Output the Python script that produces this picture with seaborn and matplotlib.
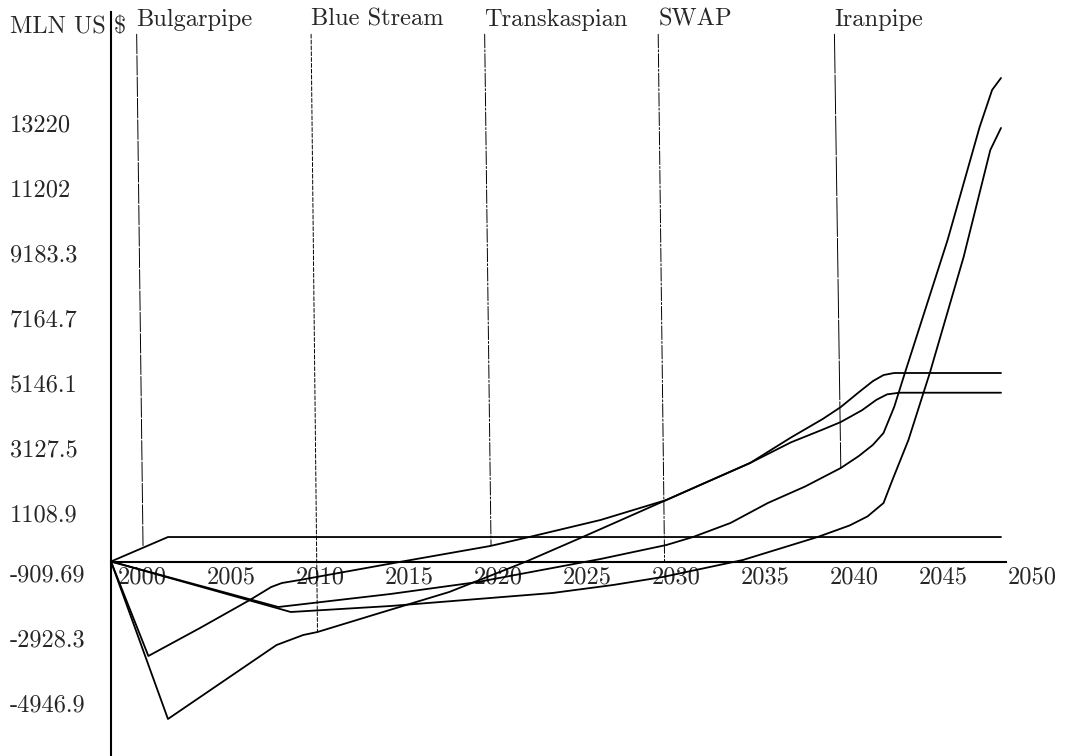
import numpy as np
import pandas as pd
import matplotlib
matplotlib.use("Agg")
import matplotlib.pyplot as plt
import seaborn as sns
from matplotlib.transforms import ScaledTranslation, blended_transform_factory

# curves (year, MLN US $)
flat_year = [2000, 2003.2, 2050]
flat_val = [0, 760, 760]

b_year = [2000, 2003.2, 2009.3, 2010.8, 2011.6, 2015.1, 2019.0, 2023.4, 2026.5, 2031.2, 2033.1,
          2035.9, 2038.2, 2040.0, 2041.0, 2042.0, 2042.8, 2043.4, 2044.0, 2050]
b_val = [0, -4890, -2593, -2282, -2189, -1599, -947, 16, 761, 1910, 2375,
         3058, 3850, 4430, 4797, 5250, 5600, 5790, 5853, 5853]

c_year = [2000, 2002.1, 2005.0, 2007.8, 2009.0, 2009.6, 2010.6, 2016.2, 2021.3, 2023.5, 2027.5,
          2031.2, 2033.1, 2035.9, 2038.2, 2040.0, 2041.0, 2042.2, 2043.0, 2043.6, 2044.3, 2050]
c_val = [0, -2934, -2065, -1195, -792, -668, -575, -16, 481, 761, 1289,
         1910, 2375, 3058, 3700, 4100, 4331, 4700, 5020, 5190, 5241, 5241]

d_year = [2000, 2009.4, 2015.7, 2020.6, 2027.5, 2031.2, 2032.7, 2034.8, 2036.9, 2039.0, 2041.0,
          2042.0, 2042.8, 2043.4, 2044.0, 2044.6, 2047.0, 2048.8, 2049.5, 2050]
d_val = [0, -1413, -1009, -637, 78, 512, 761, 1195, 1816, 2330, 2903,
         3270, 3620, 3990, 4800, 5853, 9983, 13492, 14641, 15013]

e_year = [2000, 2010.1, 2015.7, 2024.8, 2028.2, 2031.0, 2035.5, 2039.7, 2041.5, 2042.5, 2043.4,
          2043.9, 2044.8, 2046.0, 2047.9, 2049.4, 2050]
e_val = [0, -1568, -1382, -978, -730, -481, 47, 761, 1120, 1400, 1816,
         2531, 3773, 5853, 9455, 12778, 13461]

pipe_names = ["Bulgarpipe", "Blue Stream", "Transkaspian", "SWAP", "Iranpipe"]
pipe_years = [2001.8, 2011.6, 2021.35, 2031.1, 2041.0]
pipe_values = [450, -2189, 500, 0, 2903]

xticks = [2000, 2005, 2010, 2015, 2020, 2025, 2030, 2035, 2040, 2045, 2050]
yticks = [-4946.9, -2928.3, -909.69, 1108.9, 3127.5, 5146.1, 7164.7, 9183.3, 11202, 13220]
ytick_labels = ["-4946.9", "-2928.3", "-909.69", "1108.9", "3127.5", "5146.1",
                "7164.7", "9183.3", "11202", "13220"]

frames = []
for name, yrs, vals in [("flat", flat_year, flat_val), ("b", b_year, b_val), ("c", c_year, c_val),
                        ("d", d_year, d_val), ("e", e_year, e_val)]:
    frames.append(pd.DataFrame({"year": yrs, "value": vals, "curve": name}))
df = pd.concat(frames, ignore_index=True)

sns.set_style("white")
plt.rcParams["font.family"] = ["cmr10", "DejaVu Serif"]
plt.rcParams["font.size"] = 17.6

fig = plt.figure(figsize=(10.66, 7.56), dpi=100)
ax = fig.add_axes([0, 0, 1, 1])

sns.lineplot(data=df, x="year", y="value", units="curve", estimator=None, sort=False,
             color="black", linewidth=1.3, legend=False, ax=ax)

# pixel mapping of the reference: 17.8 px per year, 31.05 units per px
ax.set_xlim(2000 - 111 / 17.8, 2000 + 955 / 17.8)
ax.set_ylim((561.5 - 756) * 31.05, 561.5 * 31.05)

for s in ["top", "right"]:
    ax.spines[s].set_visible(False)
ax.spines["left"].set_position(("data", 2000))
ax.spines["bottom"].set_position(("data", 0))
ax.spines["left"].set_bounds((561.5 - 760) * 31.05, (561.5 - 12) * 31.05)
ax.spines["bottom"].set_bounds(2000, 2050.3)
for s in ["left", "bottom"]:
    ax.spines[s].set_linewidth(1.5)
    ax.spines[s].set_color("black")

ax.set_xticks(xticks, [str(x) for x in xticks])
ax.set_yticks(yticks, ytick_labels)
ax.tick_params(axis="x", length=0, pad=3.5)
ax.tick_params(axis="y", length=0, pad=72.7)
ax.set_xlabel("")

for lab in ax.get_xticklabels():
    lab.set_ha("left")
    lab.set_transform(lab.get_transform() + ScaledTranslation(0.07, 0, fig.dpi_scale_trans))
for lab, v in zip(ax.get_yticklabels(), yticks):
    lab.set_ha("left")
    lab.set_va("baseline")
    shift = 0.09 if v < 0 else 0.04
    lab.set_transform(lab.get_transform() + ScaledTranslation(0, shift, fig.dpi_scale_trans))

ax.set_ylabel("MLN US \\$", rotation=0, ha="left", va="baseline")
ax.yaxis.set_label_coords(10 / 1066, 1 - 33 / 756)

# pipeline labels with leader lines
top_trans = blended_transform_factory(ax.transData, ax.transAxes)
styles = [(0, (20, 2)), (0, (4, 2)), (0, (14, 2, 2, 2)), (0, (14, 2, 2, 2)), (0, (40, 2))]
for name, yr, val, ls in zip(pipe_names, pipe_years, pipe_values, styles):
    ax.annotate(name, xy=(yr, val), xytext=(yr - 0.36, 1 - 31 / 756), textcoords=top_trans,
                ha="left", va="bottom",
                arrowprops=dict(arrowstyle="-", relpos=(0, 0), shrinkA=0, shrinkB=0,
                                lw=0.7, linestyle=ls, color="black"))

fig.savefig("out.png", dpi=100, facecolor="white")
